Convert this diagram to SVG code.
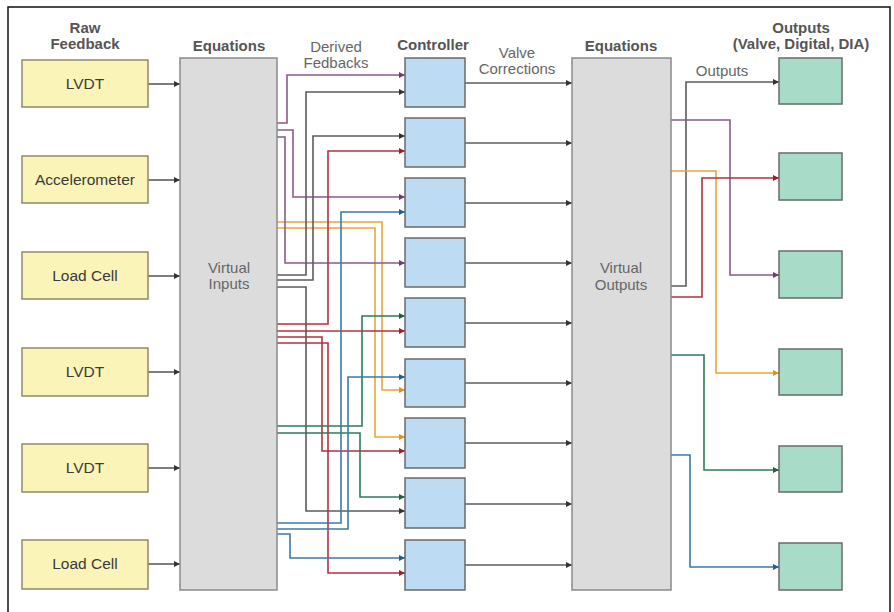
<svg xmlns="http://www.w3.org/2000/svg" width="894" height="612" viewBox="0 0 894 612">
<defs>
<style>
.hdr{font-family:"Liberation Sans",Arial,sans-serif;font-size:15px;font-weight:bold;fill:#555;text-anchor:middle}
.lbl{font-family:"Liberation Sans",Arial,sans-serif;font-size:15px;fill:#666;text-anchor:middle}
.box{font-family:"Liberation Sans",Arial,sans-serif;font-size:15.5px;fill:#3a3a3a;text-anchor:middle}
.yel{fill:#fbf4b8;stroke:#8f8a68;stroke-width:1.5}
.eq{fill:#dcdcdc;stroke:#8a8a8a;stroke-width:1.5}
.ctl{fill:#bddbf2;stroke:#6a6a6a;stroke-width:1.5}
.out{fill:#a8dcc8;stroke:#6a6a6a;stroke-width:1.5}
.c{fill:none;stroke-width:1.6}
.gy{stroke:#5c5c5c;marker-end:url(#mGy)}
.pu{stroke:#8c5a88;marker-end:url(#mPu)}
.rd{stroke:#b5313f;marker-end:url(#mRd)}
.or{stroke:#eaa53a;marker-end:url(#mOr)}
.bl{stroke:#3a7aa8;marker-end:url(#mBl)}
.gn{stroke:#2f7b58;marker-end:url(#mGn)}
</style>
<marker id="mGy" viewBox="0 0 10 10" refX="10" refY="5" markerWidth="7" markerHeight="6" markerUnits="userSpaceOnUse" orient="auto"><path d="M0,0 L10,5 L0,10 z" fill="#333"/></marker>
<marker id="mPu" viewBox="0 0 10 10" refX="10" refY="5" markerWidth="7" markerHeight="6" markerUnits="userSpaceOnUse" orient="auto"><path d="M0,0 L10,5 L0,10 z" fill="#6e3f6b"/></marker>
<marker id="mRd" viewBox="0 0 10 10" refX="10" refY="5" markerWidth="7" markerHeight="6" markerUnits="userSpaceOnUse" orient="auto"><path d="M0,0 L10,5 L0,10 z" fill="#9a1f2e"/></marker>
<marker id="mOr" viewBox="0 0 10 10" refX="10" refY="5" markerWidth="7" markerHeight="6" markerUnits="userSpaceOnUse" orient="auto"><path d="M0,0 L10,5 L0,10 z" fill="#e09020"/></marker>
<marker id="mBl" viewBox="0 0 10 10" refX="10" refY="5" markerWidth="7" markerHeight="6" markerUnits="userSpaceOnUse" orient="auto"><path d="M0,0 L10,5 L0,10 z" fill="#245f8a"/></marker>
<marker id="mGn" viewBox="0 0 10 10" refX="10" refY="5" markerWidth="7" markerHeight="6" markerUnits="userSpaceOnUse" orient="auto"><path d="M0,0 L10,5 L0,10 z" fill="#1f5f42"/></marker>
</defs>
<rect x="0" y="0" width="894" height="612" fill="#fff"/>
<rect x="8" y="7" width="882" height="615" fill="none" stroke="#111" stroke-width="1.5"/>

<g id="headers">
<text class="hdr" x="85" y="33">Raw</text>
<text class="hdr" x="85" y="49">Feedback</text>
<text class="hdr" x="229" y="51">Equations</text>
<text class="lbl" x="336" y="52">Derived</text>
<text class="lbl" x="336" y="68">Fedbacks</text>
<text class="hdr" x="433" y="50">Controller</text>
<text class="lbl" x="517" y="58">Valve</text>
<text class="lbl" x="517" y="74">Corrections</text>
<text class="hdr" x="621" y="51">Equations</text>
<text class="hdr" x="801" y="33">Outputs</text>
<text class="hdr" x="801" y="49">(Valve, Digital, DIA)</text>
<text class="lbl" x="722" y="76">Outputs</text>
</g>

<g id="connectors">
<!-- raw feedback to equations -->
<path class="c gy" d="M148,84 H180"/>
<path class="c gy" d="M148,180 H180"/>
<path class="c gy" d="M148,276 H180"/>
<path class="c gy" d="M148,372 H180"/>
<path class="c gy" d="M148,468 H180"/>
<path class="c gy" d="M148,564 H180"/>
<!-- derived feedbacks to controllers -->
<path class="c or" d="M277,222 H382 V390 H405"/>
<path class="c or" d="M277,228 H375 V437 H405"/>
<path class="c pu" d="M277,123 H287 V75 H405"/>
<path class="c pu" d="M277,130 H293 V197 H405"/>
<path class="c pu" d="M277,137 H285 V263 H405"/>
<path class="c gy" d="M277,275 H306 V92 H405"/>
<path class="c gy" d="M277,280 H313 V136 H405"/>
<path class="c gy" d="M277,287 H306 V511 H405"/>
<path class="c rd" d="M277,324 H328 V151 H405"/>
<path class="c rd" d="M277,331 H405"/>
<path class="c rd" d="M277,337 H322 V451 H405"/>
<path class="c rd" d="M277,343 H328 V573 H405"/>
<path class="c gn" d="M277,426 H362 V316 H405"/>
<path class="c gn" d="M277,433 H360 V497 H405"/>
<path class="c bl" d="M277,523 H341 V212 H405"/>
<path class="c bl" d="M277,529 H348 V377 H405"/>
<path class="c bl" d="M277,534 H290 V558 H405"/>
<!-- valve corrections -->
<path class="c gy" d="M465,83 H572"/>
<path class="c gy" d="M465,143 H572"/>
<path class="c gy" d="M465,203 H572"/>
<path class="c gy" d="M465,263 H572"/>
<path class="c gy" d="M465,323 H572"/>
<path class="c gy" d="M465,383 H572"/>
<path class="c gy" d="M465,443 H572"/>
<path class="c gy" d="M465,504 H572"/>
<path class="c gy" d="M465,565 H572"/>
<!-- outputs -->
<path class="c gy" d="M671,286 H686 V82 H779"/>
<path class="c pu" d="M671,120 H730 V275 H779"/>
<path class="c or" d="M671,171 H716 V373 H779"/>
<path class="c rd" d="M671,297 H702 V178 H779"/>
<path class="c gn" d="M671,355 H704 V470 H779"/>
<path class="c bl" d="M671,455 H690 V567 H779"/>
</g>

<g id="raw-lvdt-1"><rect class="yel" x="22" y="60" width="126" height="47"/><text class="box" x="85" y="89">LVDT</text></g>
<g id="raw-accelerometer"><rect class="yel" x="22" y="156" width="126" height="47"/><text class="box" x="85" y="185">Accelerometer</text></g>
<g id="raw-loadcell-1"><rect class="yel" x="22" y="252" width="126" height="47"/><text class="box" x="85" y="281">Load Cell</text></g>
<g id="raw-lvdt-2"><rect class="yel" x="22" y="348" width="126" height="48"/><text class="box" x="85" y="377">LVDT</text></g>
<g id="raw-lvdt-3"><rect class="yel" x="22" y="444" width="126" height="48"/><text class="box" x="85" y="473">LVDT</text></g>
<g id="raw-loadcell-2"><rect class="yel" x="22" y="540" width="126" height="49"/><text class="box" x="85" y="569">Load Cell</text></g>

<g id="equations-inputs"><rect class="eq" x="180" y="58" width="97" height="532"/><text class="lbl" x="229" y="273">Virtual</text><text class="lbl" x="229" y="289">Inputs</text></g>

<g id="ctrl-1"><rect class="ctl" x="405" y="58" width="60" height="49"/></g>
<g id="ctrl-2"><rect class="ctl" x="405" y="118" width="60" height="49"/></g>
<g id="ctrl-3"><rect class="ctl" x="405" y="178" width="60" height="49"/></g>
<g id="ctrl-4"><rect class="ctl" x="405" y="238" width="60" height="49"/></g>
<g id="ctrl-5"><rect class="ctl" x="405" y="298" width="60" height="49"/></g>
<g id="ctrl-6"><rect class="ctl" x="405" y="359" width="60" height="48"/></g>
<g id="ctrl-7"><rect class="ctl" x="405" y="418" width="60" height="50"/></g>
<g id="ctrl-8"><rect class="ctl" x="405" y="478" width="60" height="50"/></g>
<g id="ctrl-9"><rect class="ctl" x="405" y="540" width="60" height="50"/></g>

<g id="equations-outputs"><rect class="eq" x="572" y="58" width="99" height="532"/><text class="lbl" x="621" y="273">Virtual</text><text class="lbl" x="621" y="290">Outputs</text></g>

<g id="out-1"><rect class="out" x="779" y="58" width="63" height="46"/></g>
<g id="out-2"><rect class="out" x="779" y="153" width="63" height="47"/></g>
<g id="out-3"><rect class="out" x="779" y="251" width="63" height="47"/></g>
<g id="out-4"><rect class="out" x="779" y="349" width="63" height="46"/></g>
<g id="out-5"><rect class="out" x="779" y="446" width="63" height="46"/></g>
<g id="out-6"><rect class="out" x="779" y="543" width="63" height="47"/></g>
</svg>
